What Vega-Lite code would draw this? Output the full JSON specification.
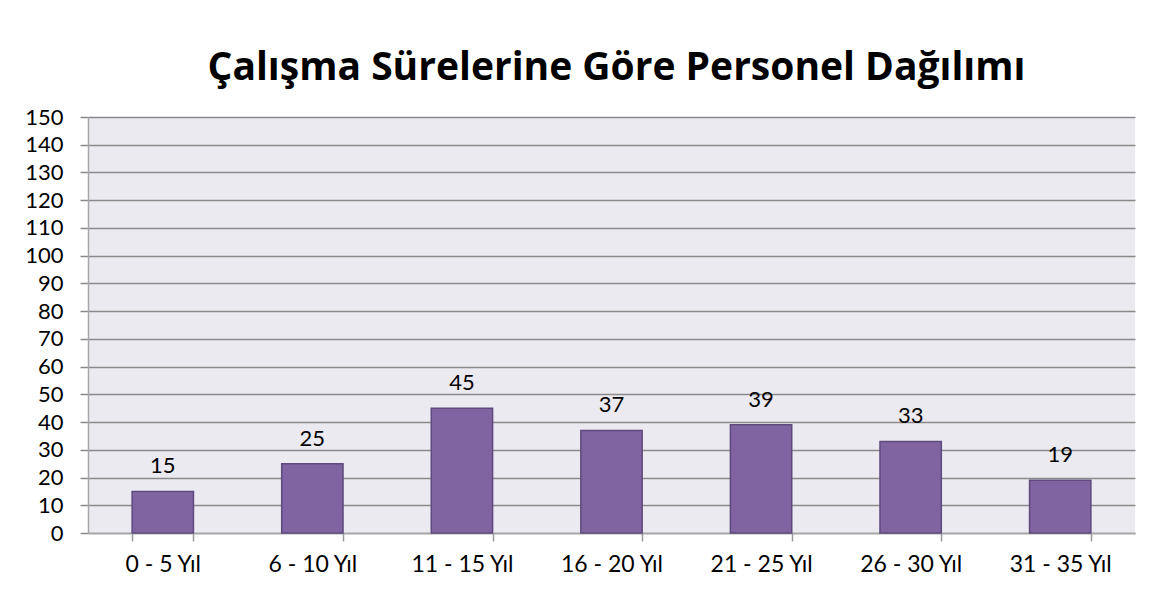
{
  "$schema": "https://vega.github.io/schema/vega-lite/v6.json",
  "autosize": {"type": "none"},
  "width": 1047,
  "height": 416,
  "padding": {"left": 88, "top": 117, "right": 38, "bottom": 65},
  "background": "white",
  "title": {
    "text": "Çalışma Sürelerine Göre Personel Dağılımı",
    "font": "Open Sans",
    "fontSize": 39,
    "fontWeight": "bold",
    "color": "#000000",
    "baseline": "alphabetic",
    "offset": -13,
    "dx": 5,
    "anchor": "middle"
  },
  "config": {
    "view": {"stroke": null, "fill": "#EBEAF0"},
    "font": "Lato"
  },
  "data": {
    "values": [
      {"grup": "0 - 5 Yıl", "sayi": 15},
      {"grup": "6 - 10 Yıl", "sayi": 25},
      {"grup": "11 - 15 Yıl", "sayi": 45},
      {"grup": "16 - 20 Yıl", "sayi": 37},
      {"grup": "21 - 25 Yıl", "sayi": 39},
      {"grup": "26 - 30 Yıl", "sayi": 33},
      {"grup": "31 - 35 Yıl", "sayi": 19}
    ]
  },
  "encoding": {
    "x": {
      "field": "grup",
      "type": "nominal",
      "sort": null,
      "title": null,
      "scale": {"paddingInner": 0.59, "paddingOuter": 0.295},
      "axis": {
        "labelAngle": 0,
        "labelFont": "Lato",
        "labelFontSize": 23,
        "labelColor": "#000000",
        "labelPadding": 12,
        "tickBand": "extent",
        "tickSize": 8,
        "tickColor": "#9a9a9a",
        "tickWidth": 1.5,
        "domainColor": "#a6a6a6",
        "domainWidth": 1.5,
        "grid": false
      }
    },
    "y": {
      "field": "sayi",
      "type": "quantitative",
      "title": null,
      "scale": {"domain": [0, 150], "nice": false},
      "axis": {
        "values": [0, 10, 20, 30, 40, 50, 60, 70, 80, 90, 100, 110, 120, 130, 140, 150],
        "labelFont": "Lato",
        "labelFontSize": 22,
        "labelColor": "#000000",
        "labelPadding": 17,
        "tickSize": 8,
        "tickColor": "#8a8a8a",
        "tickWidth": 1.5,
        "domainColor": "#a6a6a6",
        "domainWidth": 1.5,
        "grid": true,
        "gridColor": "#8a8a8a",
        "gridWidth": 1.5,
        "gridOpacity": 1
      }
    }
  },
  "layer": [
    {
      "mark": {"type": "bar", "fill": "#8064A2", "stroke": "#5E4A7C", "strokeWidth": 1.5}
    },
    {
      "mark": {"type": "text", "baseline": "alphabetic", "dy": -18, "font": "Lato", "fontSize": 22, "color": "#000000"},
      "encoding": {"text": {"field": "sayi", "type": "quantitative"}}
    }
  ]
}
